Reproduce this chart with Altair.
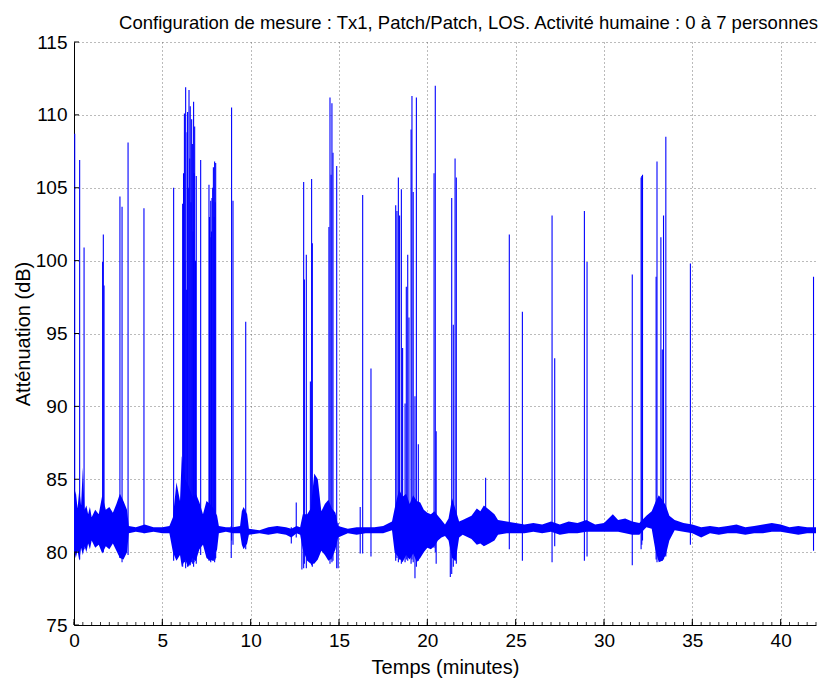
import altair as alt
import pandas as pd

# ---- noise envelope of the attenuation signal (minutes, low dB, high dB) ----
env_t = [0.0, 0.1, 0.2, 0.3, 0.4, 0.5, 0.6, 0.7, 0.8, 0.9,
         1.0, 1.2, 1.4, 1.6, 1.8, 2.0, 2.2, 2.4, 2.6, 2.8,
         3.0, 3.1, 3.5, 4.0, 4.5, 5.0, 5.4, 5.6, 5.8, 6.0,
         6.1, 6.3, 6.5, 6.7, 6.9, 7.1, 7.3, 7.5, 7.7, 7.9,
         8.1, 8.2, 8.6, 9.0, 9.4, 9.5, 9.6, 9.8, 9.9, 10.5,
         11.0, 11.5, 12.0, 12.3, 12.6, 12.8, 12.95, 13.2, 13.4, 13.6,
         13.8, 14.0, 14.2, 14.4, 14.6, 14.8, 14.95, 15.5, 16.0, 16.5,
         17.0, 17.5, 18.0, 18.15, 18.4, 18.6, 18.8, 19.0, 19.2, 19.4,
         19.6, 19.8, 20.0, 20.2, 20.4, 20.6, 20.8, 21.0, 21.2, 21.4,
         21.6, 21.8, 22.0, 22.5, 22.8, 23.0, 23.2, 23.5, 23.8, 24.0,
         24.5, 25.0, 25.5, 26.0, 26.5, 27.0, 27.5, 28.0, 28.5, 29.0,
         29.5, 30.0, 30.5, 30.8, 31.2, 31.6, 32.0, 32.4, 32.7, 32.9,
         33.1, 33.3, 33.5, 33.7, 34.0, 34.5, 35.0, 35.5, 36.0, 36.5,
         37.0, 37.5, 38.0, 38.5, 39.0, 39.5, 40.0, 40.5, 41.0, 41.5,
         42.0]
env_lo = [80.2, 79.6, 80.1, 79.4, 80.3, 79.8, 80.4, 80.0, 80.6, 80.2,
          80.8, 80.3, 80.5, 79.9, 80.4, 80.2, 80.6, 80.1, 79.6, 79.5,
          80.0, 81.3, 81.4, 81.3, 81.4, 81.3, 81.3, 80.0, 79.4, 79.8,
          79.0, 79.5, 79.0, 79.6, 79.4, 80.2, 80.5, 79.6, 79.4, 79.5,
          80.2, 81.3, 81.4, 81.3, 81.3, 80.5, 80.2, 80.6, 81.2, 81.3,
          81.2, 81.3, 81.2, 81.0, 81.3, 81.2, 80.2, 79.4, 79.2, 79.2,
          79.5, 80.1, 79.8, 79.4, 79.6, 80.2, 81.0, 81.3, 81.2, 81.3,
          81.3, 81.3, 81.5, 80.0, 79.6, 79.3, 79.8, 79.5, 79.9, 79.3,
          79.6, 80.0, 80.3, 80.2, 80.4, 80.8, 81.0, 81.1, 80.8, 79.6,
          79.4, 81.0, 81.2, 80.9, 80.5, 80.6, 80.4, 80.6, 80.8, 81.2,
          81.3, 81.3, 81.3, 81.4, 81.3, 81.4, 81.2, 81.3, 81.3, 81.4,
          81.4, 81.4, 81.4, 81.4, 81.3, 81.2, 81.2, 81.7, 81.6, 80.2,
          79.3, 79.4, 79.8, 80.8, 81.5, 81.4, 81.3, 81.0, 81.3, 81.2,
          81.3, 81.3, 81.2, 81.3, 81.3, 81.4, 81.4, 81.3, 81.2, 81.3,
          81.3]
env_hi = [83.6, 84.2, 83.0, 84.3, 83.2, 85.8, 82.9, 83.2, 82.6, 83.1,
          82.4, 82.9, 82.6, 83.9, 82.9, 83.1, 82.7, 83.3, 84.0, 83.5,
          82.9, 81.8, 81.7, 81.9, 81.7, 81.7, 81.8, 82.4, 84.8, 83.5,
          86.6, 85.0, 84.5, 83.8, 84.0, 83.4, 82.6, 83.5, 83.3, 83.0,
          82.5, 81.8, 81.7, 81.7, 81.8, 82.8, 83.1, 82.6, 81.6, 81.5,
          81.7, 81.8, 81.7, 81.6, 81.8, 81.7, 82.6, 82.6, 83.0, 85.4,
          85.0, 82.8, 83.3, 83.6, 83.0, 82.7, 81.8, 81.6, 81.7, 81.7,
          81.7, 81.8, 82.1, 83.0, 84.3, 83.8, 84.0, 83.3, 83.9, 83.5,
          83.4, 82.9, 82.7, 82.6, 82.8, 82.5, 82.2, 81.9, 82.3, 83.7,
          82.9, 82.1, 82.2, 82.5, 83.0, 82.8, 83.2, 82.9, 82.6, 82.2,
          82.1, 82.0, 81.9, 82.0, 81.9, 82.1, 81.9, 82.1, 82.0, 82.2,
          81.9, 82.0, 82.6, 82.2, 82.3, 82.1, 82.0, 82.5, 82.8, 83.4,
          83.9, 83.6, 83.2, 82.5, 82.2, 82.0, 81.9, 81.7, 81.8, 81.7,
          81.8, 81.9, 81.7, 81.8, 81.9, 82.0, 81.9, 81.7, 81.8, 81.7,
          81.7]

# ---- individual spikes (minutes, lowest dB, highest dB) ----
spk_t = [0.04, 0.32, 0.57, 1.62, 1.66, 1.70, 2.60, 2.72, 3.06, 3.96,
         5.64, 6.15, 6.20, 6.25, 6.28, 6.32, 6.36, 6.40, 6.43, 6.47,
         6.51, 6.55, 6.58, 6.62, 6.66, 6.70, 6.74, 6.77, 6.80, 6.83,
         6.88, 6.92, 7.17, 7.64, 7.67, 7.70, 7.74, 7.78, 7.81, 7.85,
         7.89, 7.93, 7.96, 7.99, 8.02, 8.90, 8.92, 9.00, 9.72, 12.30,
         12.58, 12.90, 13.00, 13.04, 13.15, 13.38, 13.45, 13.49, 14.43, 14.49,
         14.55, 14.60, 14.66, 14.87, 14.95, 16.20, 16.34, 16.81, 18.21, 18.28,
         18.36, 18.43, 18.53, 18.60, 18.74, 18.81, 18.89, 18.96, 19.08, 19.13,
         19.20, 19.30, 19.38, 19.49, 20.38, 20.45, 20.50, 21.30, 21.38, 21.47,
         21.57, 21.64, 23.30, 24.64, 25.38, 27.06, 27.21, 28.89, 29.04, 31.60,
         32.10, 32.14, 32.18, 32.95, 33.00, 33.22, 33.30, 33.37, 33.50, 34.89,
         41.86]
spk_lo = [80.0, 79.5, 80.2, 80.5, 80.0, 80.6, 79.6, 79.3, 79.8, 81.3,
          79.4, 79.0, 79.4, 79.3, 79.5, 78.9, 79.3, 79.2, 79.0, 79.4,
          79.4, 79.2, 79.1, 79.5, 79.3, 79.2, 79.6, 79.0, 79.3, 79.5,
          79.4, 79.2, 79.8, 79.4, 79.6, 79.6, 79.3, 79.5, 79.5, 79.4,
          79.4, 79.6, 79.3, 79.5, 79.6, 79.6, 80.8, 80.5, 80.2, 80.6,
          81.0, 78.8, 78.9, 79.2, 78.9, 79.4, 79.1, 79.0, 79.6, 79.2,
          79.5, 79.3, 79.4, 78.9, 78.9, 79.9, 79.9, 79.7, 79.4, 79.6,
          79.3, 79.5, 79.2, 79.6, 79.3, 79.5, 79.4, 79.6, 79.2, 79.5,
          79.3, 78.2, 79.0, 79.4, 80.3, 80.0, 79.2, 78.3, 78.5, 79.0,
          79.4, 79.2, 80.5, 80.2, 79.4, 79.3, 80.4, 79.4, 79.7, 79.1,
          80.2, 80.5, 80.8, 79.5, 79.3, 79.6, 79.4, 79.5, 79.7, 80.5,
          80.1]
spk_hi = [108.7, 106.9, 100.9, 99.9, 101.8, 98.3, 104.4, 103.7, 108.1, 103.6,
          105.0, 103.9, 106.0, 110.1, 100.0, 111.9, 98.0, 108.8, 110.2, 105.0,
          111.7, 107.0, 110.6, 104.0, 109.7, 108.0, 102.0, 110.9, 106.0, 109.2,
          100.0, 105.8, 106.9, 105.2, 103.0, 101.6, 104.1, 102.0, 104.3, 105.0,
          106.4, 103.0, 106.8, 104.0, 106.7, 81.8, 110.5, 104.1, 95.8, 81.7,
          83.4, 82.0, 105.4, 98.7, 100.4, 91.7, 105.6, 101.2, 102.3, 111.2,
          105.9, 110.8, 107.4, 106.5, 82.0, 83.1, 104.5, 92.6, 103.8, 103.4,
          105.7, 103.1, 104.9, 94.0, 90.2, 98.2, 100.4, 96.1, 109.0, 111.3,
          104.7, 90.7, 111.2, 87.4, 106.0, 112.0, 88.3, 82.0, 104.3, 95.6,
          107.0, 105.7, 85.1, 101.8, 96.5, 103.1, 93.3, 103.4, 99.9, 99.05,
          105.7, 105.8, 105.9, 98.9, 106.8, 101.6, 93.9, 103.1, 108.5, 99.8,
          98.9]

# ---- axes ----
x_ticks = [0, 5, 10, 15, 20, 25, 30, 35, 40]
x_minor = [i * 0.5 for i in range(85)]
y_ticks = [75, 80, 85, 90, 95, 100, 105, 110, 115]

title_text = "Configuration de mesure : Tx1, Patch/Patch, LOS. Activité humaine : 0 à 7 personnes"
x_title = "Temps (minutes)"
y_title = "Atténuation (dB)"

W, H = 742, 583
FONT = "Liberation Sans"
BLUE = "#0000ff"

env = pd.DataFrame({"t": env_t, "lo": env_lo, "hi": env_hi})
spk = pd.DataFrame({"t": spk_t, "lo": spk_lo, "hi": spk_hi})
xt = pd.DataFrame({"t": x_ticks})
xm = pd.DataFrame({"t": x_minor})
yt = pd.DataFrame({"lo": y_ticks})

xscale = alt.Scale(domain=[0, 42], nice=False, zero=False)
yscale = alt.Scale(domain=[75, 115], nice=False, zero=False)
xaxis = alt.Axis(values=x_ticks, title=x_title, tickSize=0, labelPadding=6,
                 titlePadding=7, grid=True, labelFlush=False)
yaxis = alt.Axis(values=y_ticks, title=y_title, tickSize=0, labelPadding=7,
                 titlePadding=2, grid=True)


def X():
    return alt.X("t:Q", scale=xscale, axis=xaxis)


def Y():
    return alt.Y("lo:Q", scale=yscale, axis=yaxis)


band = alt.Chart(env).mark_area(color=BLUE, opacity=1).encode(
    x=X(), y=Y(), y2="hi:Q")

spikes = alt.Chart(spk).mark_rule(color=BLUE, strokeWidth=1.1).encode(
    x=X(), y=Y(), y2="hi:Q")

xmaj = alt.Chart(xt).mark_rule(color="black", strokeWidth=1).encode(
    x=X(), y=alt.value(H), y2=alt.value(H - 6))
xmin = alt.Chart(xm).mark_rule(color="black", strokeWidth=0.8).encode(
    x=X(), y=alt.value(H), y2=alt.value(H - 3))
ymaj = alt.Chart(yt).mark_rule(color="black", strokeWidth=1).encode(
    y=Y(), x=alt.value(0), x2=alt.value(5))

chart = alt.layer(band, spikes, xmin, xmaj, ymaj).properties(
    width=W, height=H,
    title=alt.TitleParams(title_text, anchor="end", dx=2, dy=10, offset=11,
                          frame="group",
                          fontSize=18.5, font=FONT, fontWeight="normal",
                          color="black"),
    autosize=alt.AutoSizeParams(type="none"),
    padding={"left": 66, "top": 34, "right": 3, "bottom": 56},
).configure_view(stroke=None).configure_axis(
    domainColor="black", domainWidth=1,
    gridColor="#555555", gridDash=[1, 3], gridWidth=1, gridOpacity=0.8,
    labelFont=FONT, labelFontSize=19, labelColor="black",
    titleFont=FONT, titleFontSize=20, titleFontWeight="normal", titleColor="black",
)

chart.save("out.html", embed_options={"renderer": "svg", "actions": False})
